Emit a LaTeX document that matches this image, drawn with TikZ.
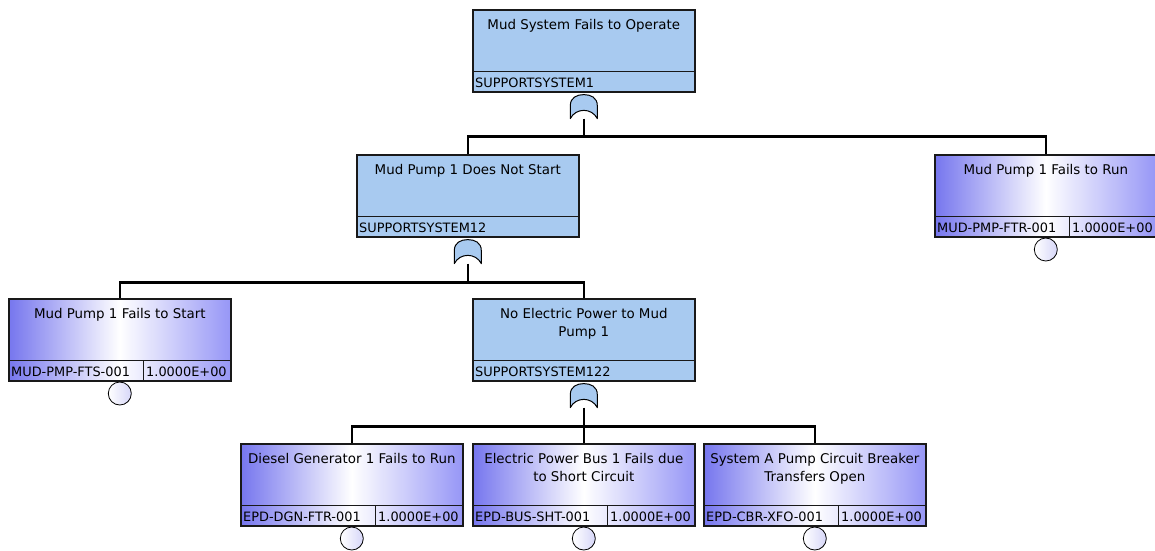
\documentclass[tikz,border=0pt]{standalone}
\usepackage{fontspec}
\setmainfont{DejaVu Sans}
\definecolor{gatefill}{RGB}{168,202,240}
\definecolor{evleft}{RGB}{118,118,238}
\definecolor{evright}{RGB}{150,150,246}
\definecolor{leafedge}{RGB}{214,214,248}
\definecolor{rim}{RGB}{25,25,25}
\tikzset{
  eventbox/.style={draw=rim, line width=1.6pt, minimum width=222, minimum height=82, inner sep=0, anchor=north west},
  gatebox/.style={eventbox, fill=gatefill},
  basicbox/.style={eventbox, left color=evleft, right color=evright, middle color=white},
  titletext/.style={anchor=north, font=\fontsize{13.4}{18.5}\selectfont, align=center, inner sep=0},
  rowtext/.style={anchor=base west, font=\fontsize{12.9}{14}\selectfont, inner sep=0},
  rowline/.style={draw=rim, line width=0.9pt},
  link/.style={line width=2.5pt, black},
  gateshape/.style={draw=black, line width=1pt, fill=gatefill, line join=round},
  leaf/.style={circle, draw=black, line width=0.8pt, minimum size=23, inner sep=0, left color=white, right color=leafedge},
}
% intermediate event with an OR gate below it: name, x, y, title, id
\newcommand\gateevent[5]{%
  \node[gatebox] (#1) at (#2,#3) {};
  \node[titletext] (#1-title) at ([yshift=-10]#1.north) {#4};
  \draw[rowline] ([yshift=21]#1.south west) -- ([yshift=21]#1.south east);
  \node[rowtext] (#1-id) at ([xshift=3,yshift=5]#1.south west) {#5};
  \begin{scope}[shift={([yshift=-2]#1.south)}]
    \draw[gateshape] (-13.5,24) -- (-13.5,11)
      .. controls (-13.5,3) and (-7,0) .. (0,0)
      .. controls (7,0) and (13.5,3) .. (13.5,11) -- (13.5,24)
      .. controls (8,13) and (-8,13) .. cycle;
  \end{scope}
  \coordinate (#1-in) at ([yshift=-26]#1.south);
}
% basic event with probability and circle: name, x, y, title, id
\newcommand\basicevent[5]{%
  \node[basicbox] (#1) at (#2,#3) {};
  \node[titletext] (#1-title) at ([yshift=-10]#1.north) {#4};
  \draw[rowline] ([yshift=21]#1.south west) -- ([yshift=21]#1.south east);
  \draw[rowline] ([xshift=135]#1.south west) -- ([xshift=135,yshift=21]#1.south west);
  \node[rowtext] (#1-id) at ([xshift=3,yshift=5]#1.south west) {#5};
  \node[rowtext] (#1-p) at ([xshift=138,yshift=5]#1.south west) {1.0000E+00};
  \node[leaf, anchor=north] (#1-c) at (#1.south) {};
}
\begin{document}
\begin{tikzpicture}[x=1pt, y=-1pt]
  \fill[white] (0,0) rectangle (1155,550);
  \useasboundingbox (0,0) rectangle (1155,550);

  \gateevent{top}{472}{9}{Mud System Fails to Operate}{SUPPORTSYSTEM1}
  \gateevent{mp1ns}{356}{154}{Mud Pump 1 Does Not Start}{SUPPORTSYSTEM12}
  \basicevent{mp1ftr}{934}{154}{Mud Pump 1 Fails to Run}{MUD-PMP-FTR-001}
  \basicevent{mp1fts}{8}{298}{Mud Pump 1 Fails to Start}{MUD-PMP-FTS-001}
  \gateevent{noep}{472}{298}{No Electric Power to Mud\\Pump 1}{SUPPORTSYSTEM122}
  \basicevent{dg}{240}{443}{Diesel Generator 1 Fails to Run}{EPD-DGN-FTR-001}
  \basicevent{bus}{472}{443}{Electric Power Bus 1 Fails due\\to Short Circuit}{EPD-BUS-SHT-001}
  \basicevent{cbr}{703}{443}{System A Pump Circuit Breaker\\Transfers Open}{EPD-CBR-XFO-001}

  % gate inputs
  \draw[link] (top-in) -- ++(0,18) coordinate (top-bar);
  \draw[link] (mp1ns.north) |- (top-bar) -| (mp1ftr.north);

  \draw[link] (mp1ns-in) -- ++(0,19) coordinate (mp1ns-bar);
  \draw[link] (mp1fts.north) |- (mp1ns-bar) -| (noep.north);

  \draw[link] (noep-in) -- ++(0,19) coordinate (noep-bar);
  \draw[link] (dg.north) |- (noep-bar) -| (cbr.north);
  \draw[link] (noep-bar) -- (bus.north);
\end{tikzpicture}
\end{document}
